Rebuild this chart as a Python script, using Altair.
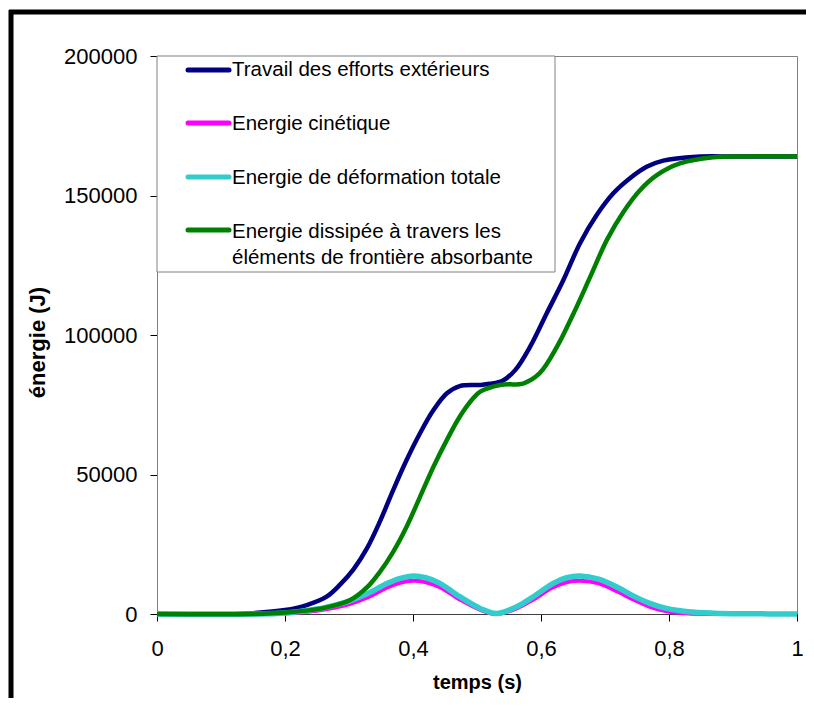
import altair as alt
import pandas as pd

FONT = "Liberation Sans"

series_names = [
    "Travail des efforts extérieurs",
    "Energie cinétique",
    "Energie de déformation totale",
    "Energie dissipée à travers les éléments de frontière absorbante",
]
legend_lines = [
    ["Travail des efforts extérieurs"],
    ["Energie cinétique"],
    ["Energie de déformation totale"],
    ["Energie dissipée à travers les", "éléments de frontière absorbante"],
]
colors = ["#000080", "#FF00FF", "#33CCCC", "#008000"]
widths = [4.5, 4.0, 5.5, 4.5]

x_ticks = [0, 0.2, 0.4, 0.6, 0.8, 1.0]
y_ticks = [0, 50000, 100000, 150000, 200000]

# Travail des efforts extérieurs
t_work = [0, 0.1, 0.15, 0.2, 0.234, 0.265, 0.286, 0.307, 0.328, 0.348, 0.369, 0.39,
          0.411, 0.432, 0.453, 0.473, 0.505, 0.52, 0.54, 0.56, 0.583, 0.609, 0.635,
          0.661, 0.687, 0.713, 0.739, 0.765, 0.791, 0.843, 0.9, 1.0]
e_work = [0, 0, 300, 1400, 3200, 6200, 10500, 16000, 23500, 33000, 44400, 55200,
          64800, 73100, 79100, 81700, 82100, 82500, 83600, 87500, 95800, 107800, 119700,
          132900, 143000, 150800, 156200, 160300, 162500, 163900, 164000, 164000]

# Energie cinétique
t_kin = [0, 0.15, 0.2, 0.25, 0.3, 0.33, 0.36, 0.38, 0.4, 0.42, 0.442, 0.473, 0.505,
         0.53, 0.562, 0.588, 0.619, 0.64, 0.661, 0.69, 0.72, 0.744, 0.77, 0.796, 0.83,
         0.87, 1.0]
e_kin = [0, 0, 200, 1200, 3500, 6000, 9500, 11200, 11900, 11400, 9600, 5200, 1500,
         0, 2000, 5200, 9600, 11400, 11900, 11000, 8000, 5200, 2600, 1000, 150,
         0, 0]

# Energie de déformation totale
t_def = [0, 0.15, 0.2, 0.25, 0.28, 0.3, 0.33, 0.36, 0.38, 0.4, 0.42, 0.442, 0.473,
         0.505, 0.53, 0.562, 0.588, 0.619, 0.64, 0.661, 0.69, 0.72, 0.744, 0.77,
         0.796, 0.83, 0.87, 0.92, 1.0]
e_def = [0, 0, 400, 1800, 3300, 4600, 7400, 11000, 12800, 13600, 13000, 11000, 6200,
         2000, 200, 2600, 6200, 11000, 13000, 13600, 12500, 9500, 6500, 3800,
         2000, 800, 300, 100, 0]

# Energie dissipée
t_dis = [0, 0.15, 0.2, 0.26, 0.302, 0.328, 0.348, 0.369, 0.39, 0.411, 0.432, 0.453,
         0.473, 0.494, 0.505, 0.536, 0.573, 0.598, 0.625, 0.651, 0.677, 0.703, 0.729,
         0.755, 0.781, 0.817, 0.869, 0.92, 1.0]
e_dis = [0, 0, 500, 2100, 5000, 9500, 15000, 22300, 31300, 42000, 52800, 62400,
         70700, 77300, 79700, 82100, 82700, 86300, 95800, 107800, 120900, 134100, 144200,
         152000, 157300, 161500, 163700, 164000, 164000]

all_t = [t_work, t_kin, t_def, t_dis]
all_e = [e_work, e_kin, e_def, e_dis]

rows = []
for name, ts, es in zip(series_names, all_t, all_e):
    for t, e in zip(ts, es):
        rows.append({"serie": name, "t": t, "E": e})
df = pd.DataFrame(rows)

one = pd.DataFrame({"k": [0]})

x_enc = alt.X(
    "t:Q",
    scale=alt.Scale(domain=[0, 1], nice=False, zero=False),
    axis=alt.Axis(
        values=x_ticks,
        labelExpr="replace(format(datum.value, '.1~f'), '.', ',')",
        title="temps (s)",
        titleX=320, titleY=68, titleBaseline="middle", titleAlign="center",
    ),
)
y_enc = alt.Y(
    "E:Q",
    scale=alt.Scale(domain=[0, 200000], nice=False),
    axis=alt.Axis(
        values=y_ticks,
        format="d",
        title="énergie (J)",
        titleX=-120, titleY=286, titleAngle=-90, titleBaseline="middle",
        titleAlign="center",
    ),
)

layers = []
for name, col, w in zip(series_names, colors, widths):
    layers.append(
        alt.Chart(df)
        .transform_filter(alt.datum.serie == name)
        .mark_line(color=col, strokeWidth=w, interpolate="catmull-rom")
        .encode(x=x_enc, y=y_enc)
    )

# Legend box (drawn manually)
legend_box = alt.Chart(one).mark_rect(
    fill="white", stroke="#808080", strokeWidth=1
).encode(
    x=alt.value(0), x2=alt.value(398), y=alt.value(0), y2=alt.value(216)
)
legend_layers = [legend_box]
sym_y = [14, 67, 121, 174]
txt_y = [14, 68, 122, 176]
line_gap = 26
for i, (col, lines_txt) in enumerate(zip(colors, legend_lines)):
    legend_layers.append(
        alt.Chart(one).mark_rule(color=col, strokeWidth=5, strokeCap="round").encode(
            x=alt.value(31), x2=alt.value(72), y=alt.value(sym_y[i])
        )
    )
    for j, txt in enumerate(lines_txt):
        legend_layers.append(
            alt.Chart(one).mark_text(
                text=txt, align="left", baseline="middle", font=FONT,
                fontSize=20.5, color="black"
            ).encode(x=alt.value(75), y=alt.value(txt_y[i] + j * line_gap))
        )

# Outer black frame (left and top edges visible)
frame_left = alt.Chart(one).mark_rule(color="black", strokeWidth=5).encode(
    x=alt.value(-146), y=alt.value(-46), y2=alt.value(642)
)
frame_top = alt.Chart(one).mark_rule(color="black", strokeWidth=5).encode(
    x=alt.value(-148), x2=alt.value(649), y=alt.value(-44)
)

chart = alt.layer(*layers, *legend_layers, frame_left, frame_top).properties(
    width=640,
    height=558,
    autosize="none",
    padding={"left": 149, "top": 48, "right": 9, "bottom": 84},
    background="white",
).configure_view(
    stroke="#808080", strokeWidth=1
).configure_axis(
    grid=False,
    labelFont=FONT, labelFontSize=22, labelColor="black",
    titleFont=FONT, titleFontWeight="bold", titleColor="black",
    tickColor="black", tickSize=7, tickWidth=1,
).configure_axisX(
    labelPadding=17, domainColor="#404040", titleFontSize=20,
    labelFlush=False,
).configure_axisY(
    labelPadding=13, domainColor="#808080", titleFontSize=22,
)

chart.save("out.html", embed_options={"renderer": "svg", "actions": False})
